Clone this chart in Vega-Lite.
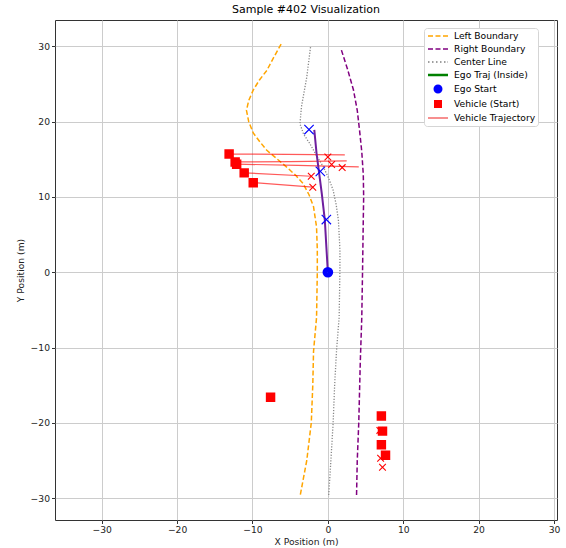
{
  "$schema": "https://vega.github.io/schema/vega-lite/v6.json",
  "width": 502,
  "height": 500,
  "autosize": "none",
  "padding": {"left": 55, "top": 20, "right": 9, "bottom": 28},
  "title": {"text": "Sample #402 Visualization", "fontSize": 11, "font": "DejaVu Sans", "fontWeight": "normal", "color": "#000", "offset": 5},
  "config": {
    "font": "DejaVu Sans",
    "view": {"stroke": "#333333", "strokeWidth": 1},
    "axis": {"domain": false, "grid": true, "gridColor": "#cccccc", "gridWidth": 1, "tickColor": "#333", "tickSize": 3.5, "labelFontSize": 9.2, "labelColor": "#222", "titleFontSize": 9.2, "titleFontWeight": "normal", "titleColor": "#222", "labelFont": "DejaVu Sans", "titleFont": "DejaVu Sans", "labelFlush": false},
    "axisX": {"labelPadding": 2, "titlePadding": 3},
    "axisY": {"labelPadding": 2, "titlePadding": 5},
    "legend": {"title": null, "orient": "none", "legendX": 369, "legendY": 8, "padding": 2, "symbolOffset": 6, "symbolSize": 100, "symbolStrokeWidth": 1.5, "labelOffset": 10, "labelFontSize": 9.2, "labelFont": "DejaVu Sans", "labelColor": "#000", "rowPadding": 1.0, "strokeColor": "#d5d5d5", "fillColor": "#ffffff", "cornerRadius": 3, "labelLimit": 200}
  },
  "datasets": {
    "left": [
      {"x": -6.2, "y": 30.3}, {"x": -7.2, "y": 28.5}, {"x": -8.1, "y": 26.8}, {"x": -9.1, "y": 25.5}, {"x": -9.9, "y": 24.2}, {"x": -10.5, "y": 22.8}, {"x": -10.8, "y": 21.5}, {"x": -10.5, "y": 20.0}, {"x": -9.9, "y": 18.5}, {"x": -9.0, "y": 17.3}, {"x": -8.1, "y": 16.2}, {"x": -6.8, "y": 15.1}, {"x": -5.5, "y": 14.0}, {"x": -4.3, "y": 12.9}, {"x": -3.3, "y": 11.8}, {"x": -2.5, "y": 10.3}, {"x": -1.9, "y": 8.7}, {"x": -1.5, "y": 6.0}, {"x": -1.4, "y": 3.0}, {"x": -1.4, "y": 0}, {"x": -1.5, "y": -6}, {"x": -1.9, "y": -10.5}, {"x": -2.0, "y": -15}, {"x": -2.2, "y": -20}, {"x": -2.8, "y": -25}, {"x": -3.7, "y": -29.8}
    ],
    "right": [
      {"x": 1.8, "y": 29.5}, {"x": 2.6, "y": 27}, {"x": 3.4, "y": 24.2}, {"x": 3.9, "y": 21.5}, {"x": 4.2, "y": 18.9}, {"x": 4.5, "y": 16}, {"x": 4.7, "y": 13}, {"x": 4.75, "y": 10}, {"x": 4.7, "y": 7}, {"x": 4.6, "y": 0}, {"x": 4.5, "y": -6}, {"x": 4.3, "y": -12}, {"x": 4.1, "y": -20}, {"x": 3.9, "y": -25}, {"x": 3.8, "y": -29.9}
    ],
    "center": [
      {"x": -2.3, "y": 29.9}, {"x": -2.8, "y": 25.9}, {"x": -3.5, "y": 22}, {"x": -3.7, "y": 19.7}, {"x": -3.2, "y": 18.3}, {"x": -2.4, "y": 17.1}, {"x": -1.5, "y": 15.5}, {"x": -0.6, "y": 14}, {"x": 0.1, "y": 12.5}, {"x": 0.7, "y": 10.9}, {"x": 1.1, "y": 9}, {"x": 1.4, "y": 6.9}, {"x": 1.6, "y": 3}, {"x": 1.6, "y": 0.3}, {"x": 1.5, "y": -5.9}, {"x": 1.15, "y": -10.4}, {"x": 0.9, "y": -15}, {"x": 0.7, "y": -20}, {"x": 0.4, "y": -25}, {"x": 0.1, "y": -29.8}
    ],
    "ego": [
      {"x": 0, "y": 0}, {"x": -0.2, "y": 3.4}, {"x": -0.4, "y": 6.9}, {"x": -0.8, "y": 10.4}, {"x": -1.2, "y": 13.5}, {"x": -1.5, "y": 15.8}, {"x": -1.8, "y": 18.9}
    ],
    "veh": [
      {"vid": 1, "x": -13.1, "y": 15.7}, {"vid": 1, "x": -5.5, "y": 15.65}, {"vid": 1, "x": 2.25, "y": 15.6},
      {"vid": 2, "x": -12.3, "y": 14.65}, {"vid": 2, "x": -5, "y": 14.7}, {"vid": 2, "x": 2.5, "y": 14.8},
      {"vid": 3, "x": -12.1, "y": 14.35}, {"vid": 3, "x": -4, "y": 14.2}, {"vid": 3, "x": 4.1, "y": 14.0},
      {"vid": 4, "x": -11.1, "y": 13.2}, {"vid": 4, "x": -2.2, "y": 12.75},
      {"vid": 5, "x": -9.9, "y": 11.9}, {"vid": 5, "x": -2.0, "y": 11.3}
    ],
    "egoX": [
      {"x": -2.5, "y": 18.95}, {"x": -1.0, "y": 13.4}, {"x": -0.2, "y": 7.0}
    ],
    "ends": [
      {"x": 0.0, "y": 15.3}, {"x": 0.5, "y": 14.3}, {"x": 1.9, "y": 13.9}, {"x": -2.2, "y": 12.75}, {"x": -2.0, "y": 11.3}, {"x": 6.9, "y": -21.0}, {"x": 7.0, "y": -24.7}, {"x": 7.25, "y": -25.9}
    ],
    "starts": [
      {"series": "Ego Start", "x": 0, "y": 0},
      {"series": "Vehicle (Start)", "x": -13.1, "y": 15.7},
      {"series": "Vehicle (Start)", "x": -12.3, "y": 14.65},
      {"series": "Vehicle (Start)", "x": -12.1, "y": 14.35},
      {"series": "Vehicle (Start)", "x": -11.1, "y": 13.2},
      {"series": "Vehicle (Start)", "x": -9.9, "y": 11.9},
      {"series": "Vehicle (Start)", "x": -7.6, "y": -16.6},
      {"series": "Vehicle (Start)", "x": 7.1, "y": -19.1},
      {"series": "Vehicle (Start)", "x": 7.25, "y": -21.1},
      {"series": "Vehicle (Start)", "x": 7.1, "y": -22.9},
      {"series": "Vehicle (Start)", "x": 7.65, "y": -24.3}
    ]
  },
  "encoding": {
    "x": {"field": "x", "type": "quantitative", "scale": {"domain": [-36.2, 30.4], "nice": false, "zero": false}, "axis": {"title": "X Position (m)", "values": [-30, -20, -10, 0, 10, 20, 30]}},
    "y": {"field": "y", "type": "quantitative", "scale": {"domain": [-32.9, 33.5], "nice": false, "zero": false}, "axis": {"title": "Y Position (m)", "values": [-30, -20, -10, 0, 10, 20, 30]}}
  },
  "layer": [
    {"data": {"name": "left"}, "mark": {"type": "line", "color": "#ffa500", "strokeWidth": 1.5, "strokeDash": [5, 2.5]}, "encoding": {"order": {"value": null}}},
    {"data": {"name": "right"}, "mark": {"type": "line", "color": "#800080", "strokeWidth": 1.5, "strokeDash": [5, 2.5]}, "encoding": {"order": {"value": null}}},
    {"data": {"name": "center"}, "mark": {"type": "line", "color": "#888888", "strokeWidth": 1.3, "strokeDash": [1.2, 1.6]}, "encoding": {"order": {"value": null}}},
    {"data": {"name": "veh"}, "mark": {"type": "line", "color": "#ff0000", "opacity": 0.65, "strokeWidth": 1.2}, "encoding": {"detail": {"field": "vid", "type": "nominal"}, "order": {"value": null}}},
    {"data": {"name": "ego"}, "mark": {"type": "line", "color": "#6e1f9e", "strokeWidth": 2}, "encoding": {"order": {"value": null}}},
    {"data": {"name": "egoX"}, "mark": {"type": "point", "shape": "M-1,-1L1,1M-1,1L1,-1", "filled": false, "color": "#0000ff", "opacity": 1, "strokeWidth": 1.1, "size": 88}},
    {"data": {"name": "ends"}, "mark": {"type": "point", "shape": "M-1,-1L1,1M-1,1L1,-1", "filled": false, "color": "#ff0000", "opacity": 1, "strokeWidth": 1.1, "size": 45}},
    {
      "data": {"name": "starts"},
      "mark": {"type": "point", "filled": false, "opacity": 1, "size": 150, "strokeWidth": 1.5},
      "encoding": {
        "color": {
          "field": "series", "type": "nominal",
          "scale": {"domain": ["Left Boundary", "Right Boundary", "Center Line", "Ego Traj (Inside)", "Ego Start", "Vehicle (Start)", "Vehicle Trajectory"], "range": ["#ffa500", "#800080", "#808080", "#008000", "#0000ff", "#ff0000", "#f46a6a"]}
        },
        "shape": {
          "field": "series", "type": "nominal",
          "scale": {"domain": ["Left Boundary", "Right Boundary", "Center Line", "Ego Traj (Inside)", "Ego Start", "Vehicle (Start)", "Vehicle Trajectory"], "range": ["M-2,0H-1M-0.5,0H0.5M1,0H2", "M-2,0H-1M-0.5,0H0.5M1,0H2", "M-2,0H-1.7M-1.2,0H-0.9M-0.4,0H-0.1M0.4,0H0.7M1.2,0H1.5M1.9,0H2", "M-2,-0.08H2M-2,0.08H2", "M-0.75,0A0.75,0.75 0 1,0 0.75,0A0.75,0.75 0 1,0 -0.75,0ZM-0.55,0A0.55,0.55 0 1,0 0.55,0A0.55,0.55 0 1,0 -0.55,0ZM-0.35,0A0.35,0.35 0 1,0 0.35,0A0.35,0.35 0 1,0 -0.35,0ZM-0.15,0A0.15,0.15 0 1,0 0.15,0A0.15,0.15 0 1,0 -0.15,0Z", "M-0.65,-0.65H0.65V0.65H-0.65ZM-0.45,-0.45H0.45V0.45H-0.45ZM-0.25,-0.25H0.25V0.25H-0.25ZM-0.05,-0.05H0.05V0.05H-0.05Z", "M-2,0H2"]}
        }
      }
    }
  ]
}
